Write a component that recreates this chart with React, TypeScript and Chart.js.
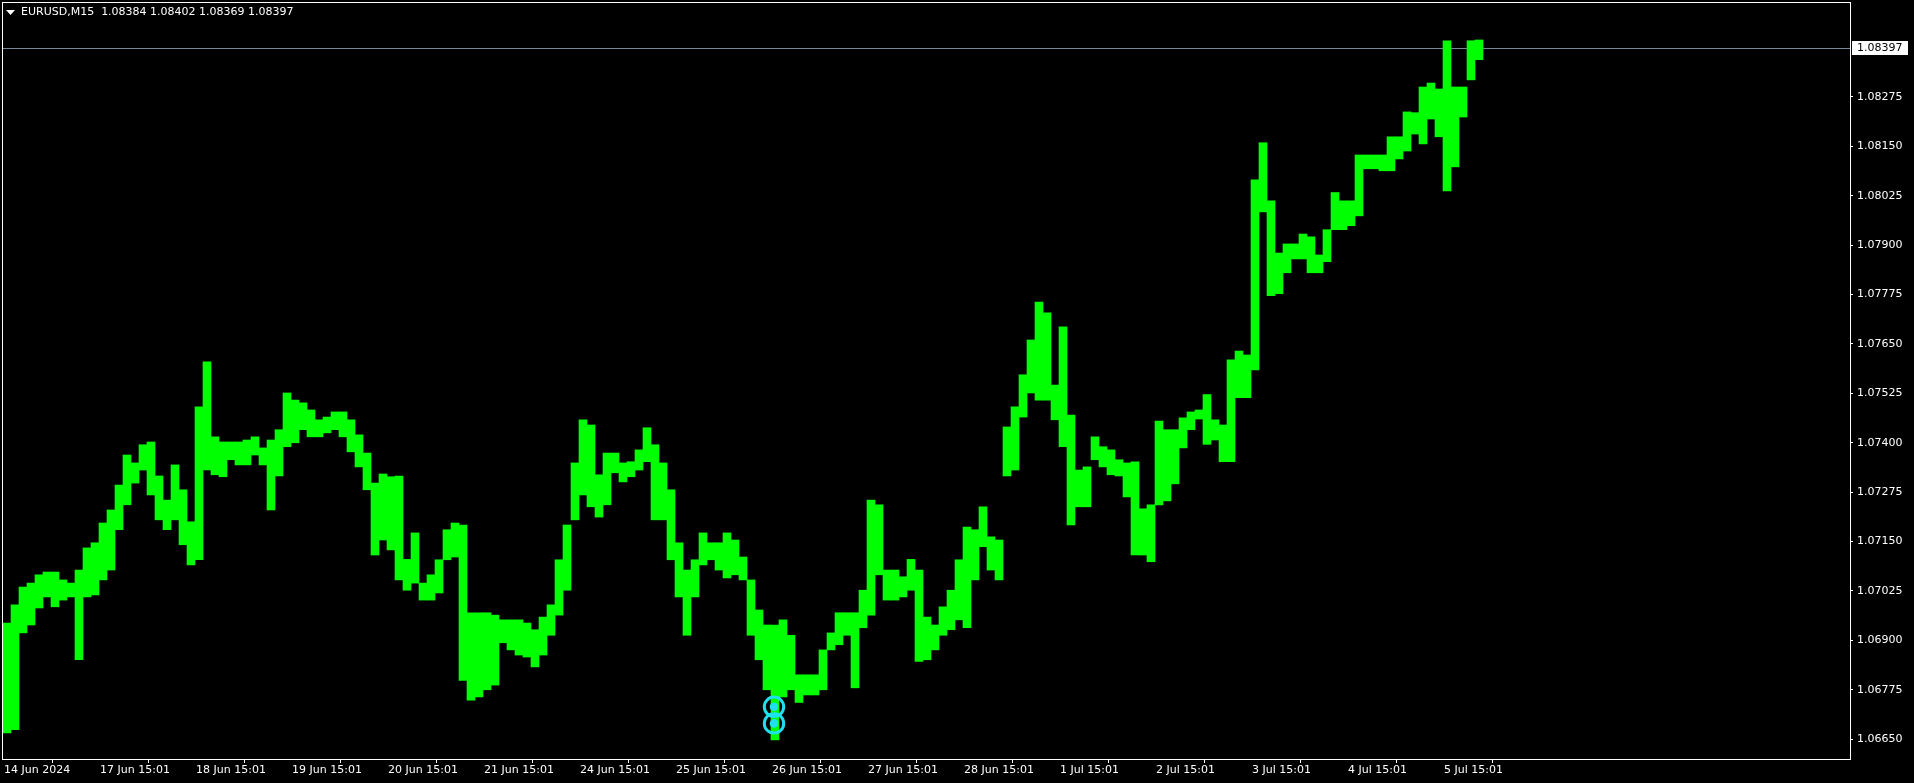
import React, { useEffect, useRef } from 'react';
import { Chart, registerables } from 'chart.js';

Chart.register(...registerables);

// ---- chart content ----
const TITLE_TEXT = 'EURUSD,M15  1.08384 1.08402 1.08369 1.08397';
const LAST_PRICE = 1.08397;

// M15 bars are grouped 8 at a time (2 hours) for each drawn range bar
const BARS_PER_BUCKET = 8;
const FIRST_BAR = 1;
const BARS_PER_DAY = 96;
const FIRST_TICK_BAR = 2;
const VISIBLE_BARS = 1848;

const X_LABELS = [
  '14 Jun 2024', '17 Jun 15:01', '18 Jun 15:01', '19 Jun 15:01', '20 Jun 15:01',
  '21 Jun 15:01', '24 Jun 15:01', '25 Jun 15:01', '26 Jun 15:01', '27 Jun 15:01',
  '28 Jun 15:01', '1 Jul 15:01', '2 Jul 15:01', '3 Jul 15:01', '4 Jul 15:01', '5 Jul 15:01',
];

const Y_TICKS = [
  1.0665, 1.06775, 1.069, 1.07025, 1.0715, 1.07275, 1.074,
  1.07525, 1.0765, 1.07775, 1.079, 1.08025, 1.0815, 1.08275,
];
const Y_MIN = 1.066;
const Y_MAX = 1.08515;

const HIGHS = [
  1.06944, 1.06990, 1.07035, 1.07045, 1.07066, 1.07073, 1.07073, 1.07053, 1.07045, 1.07078,
  1.07134, 1.07147, 1.07197, 1.07230, 1.07293, 1.07369, 1.07349, 1.07395, 1.07402, 1.07316,
  1.07255, 1.07344, 1.07281, 1.07200, 1.07491, 1.07605, 1.07415, 1.07402, 1.07402, 1.07402,
  1.07407, 1.07415, 1.07387, 1.07407, 1.07433, 1.07526, 1.07508, 1.07501, 1.07483, 1.07458,
  1.07465, 1.07478, 1.07478, 1.07458, 1.07420, 1.07374, 1.07298, 1.07321, 1.07314, 1.07316,
  1.07105, 1.07172, 1.07045, 1.07066, 1.07104, 1.07180, 1.07197, 1.07192, 1.06970, 1.06970,
  1.06970, 1.06964, 1.06952, 1.06952, 1.06952, 1.06944, 1.06927, 1.06959, 1.06990, 1.07104,
  1.07192, 1.07349, 1.07458, 1.07445, 1.07319, 1.07374, 1.07374, 1.07349, 1.07352, 1.07382,
  1.07438, 1.07395, 1.07349, 1.07281, 1.07147, 1.07078, 1.07104, 1.07172, 1.07147, 1.07147,
  1.07172, 1.07154, 1.07111, 1.07053, 1.06977, 1.06939, 1.06939, 1.06952, 1.06913, 1.06813,
  1.06813, 1.06813, 1.06876, 1.06919, 1.06970, 1.06970, 1.06970, 1.07027, 1.07255, 1.07243,
  1.07078, 1.07078, 1.07061, 1.07105, 1.07078, 1.06959, 1.06939, 1.06985, 1.07027, 1.07104,
  1.07187, 1.07180, 1.07238, 1.07162, 1.07154, 1.07440, 1.07491, 1.07572, 1.07660, 1.07756,
  1.07729, 1.07546, 1.07693, 1.07470, 1.07331, 1.07339, 1.07415, 1.07390, 1.07382, 1.07357,
  1.07349, 1.07352, 1.07233, 1.07243, 1.07455, 1.07433, 1.07433, 1.07463, 1.07478, 1.07483,
  1.07522, 1.07458, 1.07445, 1.07610, 1.07632, 1.07622, 1.08065, 1.08159, 1.08012, 1.07880,
  1.07903, 1.07903, 1.07928, 1.07921, 1.07875, 1.07939, 1.08033, 1.08012, 1.08012, 1.08128,
  1.08128, 1.08128, 1.08128, 1.08174, 1.08174, 1.08237, 1.08235, 1.08300, 1.08310, 1.08295,
  1.08417, 1.08300, 1.08300, 1.08417, 1.08419,
];

const LOWS = [
  1.06666, 1.06674, 1.06919, 1.06939, 1.06982, 1.07010, 1.06985, 1.07002, 1.07010, 1.06851,
  1.07010, 1.07015, 1.07053, 1.07078, 1.07180, 1.07243, 1.07298, 1.07331, 1.07268, 1.07205,
  1.07180, 1.07205, 1.07142, 1.07091, 1.07104, 1.07331, 1.07319, 1.07314, 1.07357, 1.07344,
  1.07344, 1.07369, 1.07344, 1.07230, 1.07316, 1.07390, 1.07400, 1.07433, 1.07415, 1.07415,
  1.07425, 1.07433, 1.07415, 1.07377, 1.07339, 1.07281, 1.07116, 1.07154, 1.07129, 1.07053,
  1.07027, 1.07045, 1.07002, 1.07002, 1.07020, 1.07104, 1.07111, 1.06799, 1.06749, 1.06757,
  1.06775, 1.06787, 1.06894, 1.06876, 1.06863, 1.06858, 1.06833, 1.06863, 1.06913, 1.06964,
  1.07027, 1.07205, 1.07268, 1.07238, 1.07212, 1.07243, 1.07324, 1.07301, 1.07314, 1.07331,
  1.07352, 1.07205, 1.07205, 1.07104, 1.07010, 1.06913, 1.07010, 1.07091, 1.07104, 1.07078,
  1.07058, 1.07066, 1.07053, 1.06913, 1.06851, 1.06775, 1.06648, 1.06757, 1.06775, 1.06743,
  1.06762, 1.06762, 1.06775, 1.06876, 1.06889, 1.06913, 1.06780, 1.06932, 1.06964, 1.07066,
  1.07002, 1.07002, 1.07010, 1.07027, 1.06847, 1.06851, 1.06876, 1.06913, 1.06927, 1.06952,
  1.06932, 1.07053, 1.07137, 1.07078, 1.07053, 1.07316, 1.07331, 1.07465, 1.07526, 1.07508,
  1.07508, 1.07458, 1.07390, 1.07192, 1.07238, 1.07238, 1.07357, 1.07339, 1.07319, 1.07316,
  1.07263, 1.07116, 1.07116, 1.07099, 1.07243, 1.07253, 1.07296, 1.07387, 1.07433, 1.07460,
  1.07396, 1.07407, 1.07352, 1.07352, 1.07514, 1.07514, 1.07584, 1.07984, 1.07772, 1.07777,
  1.07830, 1.07865, 1.07865, 1.07830, 1.07830, 1.07858, 1.07939, 1.07939, 1.07949, 1.07974,
  1.08093, 1.08093, 1.08088, 1.08088, 1.08118, 1.08138, 1.08181, 1.08156, 1.08219, 1.08174,
  1.08037, 1.08098, 1.08224, 1.08318, 1.08369,
];

// signal markers (bar index on the M15 axis, price)
const SIGNAL_BAR = 772;
const SIGNAL_PRICES = [1.06732, 1.0669];

// ---- styles ----
const GREEN = '#00FF00';
const CYAN = '#1EE0F0';
const PRICE_LINE = '#778899';
const FONT = '"DejaVu Sans", Verdana, sans-serif';

const mtPlugin = {
  id: 'mtDecor',
  beforeDraw(chart: any) {
    const ctx = chart.ctx;
    ctx.save();
    ctx.fillStyle = '#000';
    ctx.fillRect(0, 0, chart.width, chart.height);
    ctx.restore();
  },
  beforeDatasetsDraw(chart: any) {
    const { ctx, chartArea, scales } = chart;
    const y = Math.floor(scales.y.getPixelForValue(LAST_PRICE)) + 0.5;
    ctx.save();
    ctx.strokeStyle = PRICE_LINE;
    ctx.lineWidth = 1;
    ctx.beginPath();
    ctx.moveTo(chartArea.left, y);
    ctx.lineTo(chartArea.right, y);
    ctx.stroke();
    ctx.restore();
  },
  afterDraw(chart: any) {
    const { ctx, chartArea, scales } = chart;
    ctx.save();
    // frame
    ctx.strokeStyle = '#FFFFFF';
    ctx.lineWidth = 1;
    ctx.strokeRect(chartArea.left + 0.5, chartArea.top + 0.5, chartArea.right - chartArea.left, chartArea.bottom - chartArea.top);
    // title
    ctx.fillStyle = '#FFFFFF';
    ctx.beginPath();
    ctx.moveTo(6, 10);
    ctx.lineTo(15, 10);
    ctx.lineTo(10.5, 15);
    ctx.closePath();
    ctx.fill();
    ctx.font = `11px ${FONT}`;
    ctx.textBaseline = 'middle';
    ctx.textAlign = 'left';
    ctx.fillText(TITLE_TEXT, 21, 12.5);
    // last price label
    const yl = Math.floor(scales.y.getPixelForValue(LAST_PRICE));
    ctx.fillStyle = '#FFFFFF';
    ctx.fillRect(chartArea.right + 2, yl - 7, 56, 14);
    ctx.fillStyle = '#000000';
    ctx.fillText(LAST_PRICE.toFixed(5), chartArea.right + 7, yl + 0.5);
    ctx.restore();
  },
};

const zeroPadding = (scale: any) => {
  scale.paddingTop = 0;
  scale.paddingBottom = 0;
  scale.paddingLeft = 0;
  scale.paddingRight = 0;
};

export default function App() {
  const ref = useRef<HTMLCanvasElement>(null);

  useEffect(() => {
    document.body.style.margin = '0';
    document.body.style.background = '#000';
    const canvas = ref.current;
    if (!canvas) return;

    const barData = HIGHS.map((h, i) => ({
      x: FIRST_BAR + i * BARS_PER_BUCKET + BARS_PER_BUCKET / 2,
      y: [LOWS[i], h],
    }));
    const signalData = SIGNAL_PRICES.map((p) => ({ x: SIGNAL_BAR, y: p }));

    const chart = new Chart(canvas, {
      type: 'bar',
      data: {
        datasets: [
          {
            type: 'bar',
            data: barData as any,
            backgroundColor: GREEN,
            borderWidth: 0,
            barThickness: 8,
            order: 3,
          } as any,
          {
            type: 'scatter',
            data: signalData,
            pointRadius: 9.7,
            pointBorderWidth: 3,
            pointBorderColor: CYAN,
            pointBackgroundColor: 'rgba(0,0,0,0)',
            order: 1,
          } as any,
          {
            type: 'scatter',
            data: signalData,
            pointRadius: 4.3,
            pointBorderWidth: 0,
            pointBackgroundColor: CYAN,
            order: 0,
          } as any,
        ],
      },
      options: {
        responsive: false,
        animation: false,
        devicePixelRatio: 1,
        layout: { autoPadding: false, padding: { left: 2, top: 2, right: 0, bottom: 0 } },
        plugins: { legend: { display: false }, tooltip: { enabled: false } },
        scales: {
          x: {
            type: 'linear',
            position: 'bottom',
            min: 0,
            max: VISIBLE_BARS,
            offset: false,
            border: { display: false },
            grid: { drawOnChartArea: false, drawTicks: true, tickLength: 4, color: '#FFFFFF', lineWidth: 1 },
            afterBuildTicks: (scale: any) => {
              scale.ticks = X_LABELS.map((_, k) => ({ value: FIRST_TICK_BAR + k * BARS_PER_DAY }));
            },
            afterFit: (scale: any) => {
              scale.height = 24;
              zeroPadding(scale);
            },
            ticks: {
              autoSkip: false,
              maxRotation: 0,
              minRotation: 0,
              align: 'start',
              padding: 1,
              color: '#FFFFFF',
              font: { family: FONT, size: 11 },
              callback: (_v: any, i: number) => X_LABELS[i] ?? '',
            },
          },
          y: {
            type: 'linear',
            position: 'right',
            min: Y_MIN,
            max: Y_MAX,
            border: { display: false },
            grid: { drawOnChartArea: false, drawTicks: true, tickLength: 3, color: '#FFFFFF', lineWidth: 1 },
            afterBuildTicks: (scale: any) => {
              scale.ticks = Y_TICKS.map((v) => ({ value: v }));
            },
            afterFit: (scale: any) => {
              scale.width = 64;
              zeroPadding(scale);
            },
            ticks: {
              padding: 4,
              color: '#FFFFFF',
              font: { family: FONT, size: 11 },
              callback: (v: any) => Number(v).toFixed(5),
            },
          },
        },
      } as any,
      plugins: [mtPlugin],
    });

    return () => chart.destroy();
  }, []);

  return (
    <div style={{ position: 'fixed', left: 0, top: 0, width: 1914, height: 783, background: '#000' }}>
      <canvas ref={ref} width={1914} height={783} style={{ display: 'block', width: 1914, height: 783 }} />
    </div>
  );
}
